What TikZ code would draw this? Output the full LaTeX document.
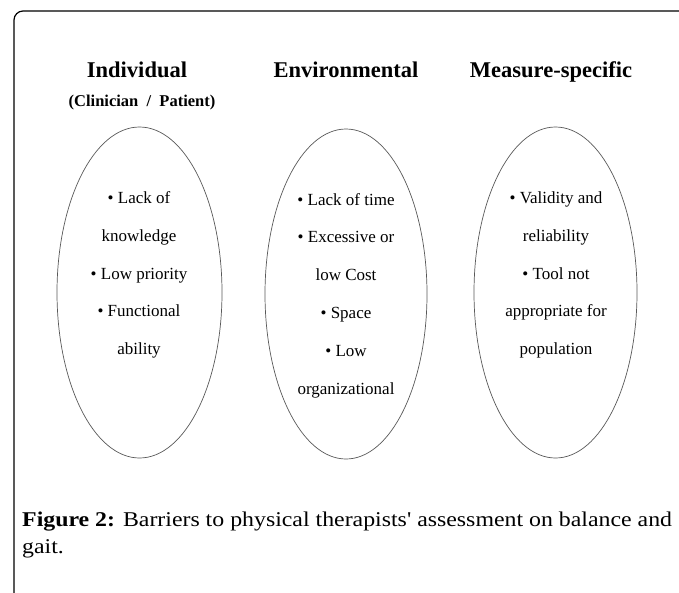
\documentclass[tikz,border=0pt]{standalone}
\usepackage{fontspec}
\setmainfont{Liberation Serif}
\newfontfamily\capfont{Liberation Serif}
\usetikzlibrary{shapes.geometric}
\tikzset{
  ellbox/.style={ellipse, draw=black!65, line width=0.7pt, inner sep=0pt},
  heading/.style={font=\bfseries\fontsize{22.5}{26}\selectfont, inner sep=0pt, anchor=base},
  subheading/.style={font=\bfseries\fontsize{16.5}{20}\selectfont, inner sep=0pt, anchor=base},
  items/.style={font=\fontsize{17}{37.8}\selectfont, align=center, inner sep=0pt},
  captxt/.style={font=\capfont\fontsize{21}{26}\selectfont, inner sep=0pt, anchor=base west}
}
\begin{document}
\begin{tikzpicture}[x=1pt,y=-1pt]
\useasboundingbox (0,0) rectangle (679,592);
\clip (0,0) rectangle (679,592);
\fill[white] (0,0) rectangle (679,592);
\draw[line width=1.2pt, rounded corners=9pt] (14,11) rectangle (720,640);

\node[heading] (h1) at (137,77) {Individual};
\node[subheading] (h1s) at (142,106) {(Clinician~ /~ Patient)};
\node[heading] (h2) at (346,77) {Environmental};
\node[heading] (h3) at (551,77) {Measure-specific};

\node[ellbox, minimum width=165pt, minimum height=331pt] (e1) at (139.5,292.5) {};
\node[ellbox, minimum width=162pt, minimum height=330pt] (e2) at (346,294) {};
\node[ellbox, minimum width=163pt, minimum height=331pt] (e3) at (555.5,292.5) {};

\node[items] (t1) at (139,275) {• Lack of\\knowledge\\• Low priority\\• Functional\\ability};
\node[items] (t2) at (346,295.5) {• Lack of time\\• Excessive or\\low Cost\\• Space\\• Low\\organizational};
\node[items] (t3) at (556,275) {• Validity and\\reliability\\• Tool not\\appropriate for\\population};

\node[captxt] (cap1) at (22,526) {\scalebox{1.135}[1]{\textbf{Figure 2:} Barriers to physical therapists' assessment on balance and}};
\node[captxt] (cap2) at (22,553) {\scalebox{1.135}[1]{gait.}};
\end{tikzpicture}
\end{document}
